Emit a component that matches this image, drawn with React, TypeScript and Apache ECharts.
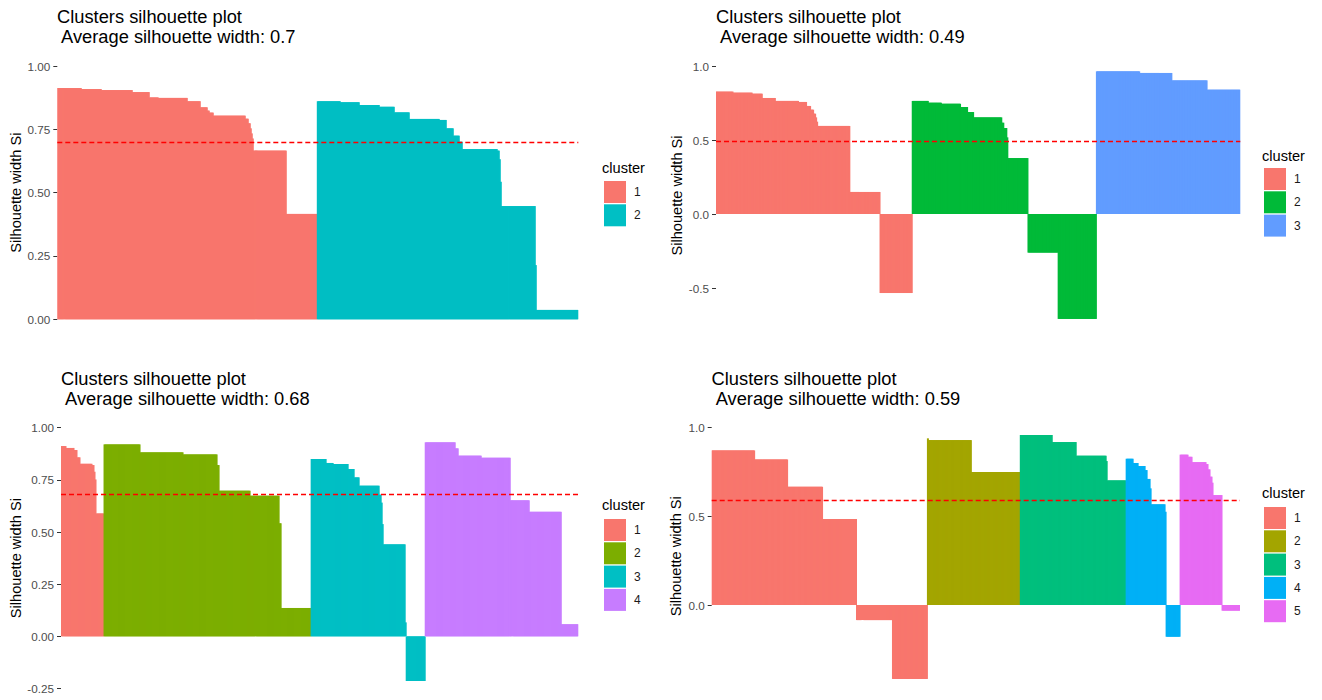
import React, { useEffect, useRef } from 'react';
import * as echarts from 'echarts';

type Run = [number, number]; // [silhouette width, number of observations]

// ---------- Data ----------
const P1_CLUSTER1: Run[] = [[0.913, 24], [0.909, 20], [0.905, 31], [0.897, 17], [0.876, 9], [0.874, 29], [0.861, 13], [0.837, 7], [0.824, 2], [0.816, 4], [0.804, 32], [0.792, 3], [0.774, 2], [0.754, 1], [0.734, 1], [0.714, 1], [0.666, 33], [0.416, 31]];
const P1_CLUSTER2: Run[] = [[0.861, 23], [0.857, 19], [0.846, 20], [0.839, 15], [0.817, 15], [0.791, 30], [0.787, 7], [0.754, 7], [0.725, 6], [0.701, 3], [0.672, 35], [0.666, 2], [0.632, 1], [0.543, 1], [0.447, 34], [0.214, 1], [0.037, 42]];

const P2_CLUSTER1: Run[] = [[0.827, 17], [0.820, 19], [0.813, 10], [0.784, 13], [0.764, 23], [0.757, 8], [0.730, 4], [0.705, 3], [0.678, 2], [0.653, 1], [0.624, 1], [0.595, 32], [0.149, 30], [-0.534, 32]];
const P2_CLUSTER2: Run[] = [[0.764, 16], [0.752, 13], [0.745, 19], [0.723, 7], [0.689, 6], [0.653, 28], [0.617, 2], [0.581, 3], [0.518, 1], [0.378, 20], [-0.261, 30], [-0.709, 38]];
const P2_CLUSTER3: Run[] = [[0.964, 43], [0.953, 32], [0.903, 35], [0.840, 33]];

const P3_CLUSTER1: Run[] = [[0.912, 5], [0.903, 8], [0.893, 3], [0.858, 3], [0.827, 12], [0.821, 2], [0.789, 1], [0.752, 1], [0.589, 8]];
const P3_CLUSTER2: Run[] = [[0.920, 36], [0.882, 43], [0.872, 34], [0.821, 2], [0.698, 31], [0.674, 29], [0.542, 2], [0.136, 30]];
const P3_CLUSTER3: Run[] = [[0.850, 15], [0.831, 7], [0.826, 15], [0.802, 6], [0.762, 5], [0.722, 20], [0.679, 2], [0.641, 1], [0.538, 1], [0.441, 22], [0.067, 1], [-0.214, 19]];
const P3_CLUSTER4: Run[] = [[0.930, 30], [0.901, 3], [0.866, 23], [0.856, 29], [0.652, 19], [0.597, 32], [0.058, 17]];

const P4_CLUSTER1: Run[] = [[0.872, 43], [0.821, 33], [0.667, 35], [0.485, 34], [-0.085, 36], [-0.417, 35]];
const P4_CLUSTER2: Run[] = [[0.940, 1], [0.930, 43], [0.750, 49]];
const P4_CLUSTER3: Run[] = [[0.959, 32], [0.919, 24], [0.842, 30], [0.812, 1], [0.703, 19]];
const P4_CLUSTER4: Run[] = [[0.825, 7], [0.801, 5], [0.784, 7], [0.761, 2], [0.711, 3], [0.658, 1], [0.568, 14], [0.526, 1], [-0.179, 14]];
const P4_CLUSTER5: Run[] = [[0.848, 8], [0.836, 4], [0.806, 14], [0.795, 2], [0.765, 2], [0.724, 2], [0.690, 1], [0.620, 9], [-0.032, 18]];

const AVG_WIDTHS = [0.7, 0.49, 0.68, 0.59];
const AVG_LABELS = ['0.7', '0.49', '0.68', '0.59'];

const P1_TICKS = [0, 0.25, 0.5, 0.75, 1];
const P2_TICKS = [-0.5, 0, 0.5, 1];
const P3_TICKS = [-0.25, 0, 0.25, 0.5, 0.75, 1];
const P4_TICKS = [0, 0.5, 1];

const COLORS_2 = ['#F8766D', '#00BFC4'];
const COLORS_3 = ['#F8766D', '#00BA38', '#619CFF'];
const COLORS_4 = ['#F8766D', '#7CAE00', '#00BFC4', '#C77CFF'];
const COLORS_5 = ['#F8766D', '#A3A500', '#00BF7D', '#00B0F6', '#E76BF3'];

const PANELS = [
  { clusters: [P1_CLUSTER1, P1_CLUSTER2], colors: COLORS_2, ticks: P1_TICKS, digits: 2, yMin: 0, yMax: 1 },
  { clusters: [P2_CLUSTER1, P2_CLUSTER2, P2_CLUSTER3], colors: COLORS_3, ticks: P2_TICKS, digits: 1, yMin: -0.75, yMax: 1 },
  { clusters: [P3_CLUSTER1, P3_CLUSTER2, P3_CLUSTER3, P3_CLUSTER4], colors: COLORS_4, ticks: P3_TICKS, digits: 2, yMin: -0.25, yMax: 1 },
  { clusters: [P4_CLUSTER1, P4_CLUSTER2, P4_CLUSTER3, P4_CLUSTER4, P4_CLUSTER5], colors: COLORS_5, ticks: P4_TICKS, digits: 1, yMin: -0.45, yMax: 1 },
];

// ---------- Layout ----------
const LAYOUT = [
  { left: 57.3, top: 66, width: 521, height: 253.3, titleLeft: 57, titleTop: 6, nameGap: 34, legendLeft: 604, legendTop: 181, ltLeft: 602, ltTop: 160 },
  { left: 716, top: 66, width: 524.3, height: 259, titleLeft: 716, titleTop: 6, nameGap: 32, legendLeft: 1264, legendTop: 168, ltLeft: 1262, ltTop: 148 },
  { left: 61, top: 427.7, width: 517.3, height: 260.8, titleLeft: 61, titleTop: 368.5, nameGap: 38, legendLeft: 604, legendTop: 519, ltLeft: 602, ltTop: 497 },
  { left: 711.7, top: 427.7, width: 528.3, height: 257.1, titleLeft: 711.6, titleTop: 368.5, nameGap: 28, legendLeft: 1264, legendTop: 507, ltLeft: 1262, ltTop: 485 },
];

const FONT = '"Liberation Sans", Arial, Helvetica, sans-serif';

function expandRuns(runs: Run[]): number[] {
  const out: number[] = [];
  for (const [v, c] of runs) for (let i = 0; i < c; i++) out.push(v);
  return out;
}

function buildOption() {
  const grid: any[] = [];
  const xAxis: any[] = [];
  const yAxis: any[] = [];
  const series: any[] = [];
  const legend: any[] = [];
  const title: any[] = [];

  PANELS.forEach((p, i) => {
    const L = LAYOUT[i];
    const clusterValues = p.clusters.map(expandRuns);
    const total = clusterValues.reduce((s, a) => s + a.length, 0);
    const cats = Array.from({ length: total }, (_, k) => String(k + 1));
    // each bar slightly wider than its band so adjacent bars overlap (no anti-alias seams)
    const barPx = (L.width / total) * 2;

    grid.push({ left: L.left, top: L.top, width: L.width, height: L.height, containLabel: false });
    xAxis.push({ type: 'category', gridIndex: i, data: cats, show: false, boundaryGap: true });
    yAxis.push({
      type: 'value',
      gridIndex: i,
      min: p.yMin,
      max: p.yMax,
      axisLine: { show: false },
      splitLine: { show: false },
      axisTick: { show: true, length: 4, customValues: p.ticks, lineStyle: { color: '#333333', width: 1 } },
      axisLabel: {
        customValues: p.ticks,
        formatter: (v: number) => v.toFixed(p.digits),
        color: '#4D4D4D',
        fontSize: 11.7,
        margin: 7,
        fontFamily: FONT,
      },
      name: 'Silhouette width Si',
      nameLocation: 'middle',
      nameGap: L.nameGap,
      nameTextStyle: { fontSize: 14.6, color: '#000000', fontFamily: FONT },
    });

    let offset = 0;
    const names: string[] = [];
    clusterValues.forEach((vals, k) => {
      const data: any[] = new Array(total).fill('-');
      vals.forEach((v, j) => { data[offset + j] = v; });
      offset += vals.length;
      const name = `p${i + 1}-${k + 1}`;
      names.push(name);
      const color = p.colors[k];
      series.push({
        type: 'bar',
        name,
        xAxisIndex: i,
        yAxisIndex: i,
        data,
        barGap: '-100%',
        barWidth: barPx,
        silent: true,
        z: 2,
        itemStyle: { color, borderWidth: 0, opacity: 1 },
      });
    });

    // dedicated carrier series for the average-silhouette reference line
    series.push({
      type: 'line',
      name: `avg-${i + 1}`,
      xAxisIndex: i,
      yAxisIndex: i,
      data: [],
      silent: true,
      z: 5,
      markLine: {
        silent: true,
        z: 5,
        symbol: ['none', 'none'],
        label: { show: false },
        lineStyle: { color: '#FF0000', type: [5, 3], width: 1.4, opacity: 1 },
        data: [{ yAxis: AVG_WIDTHS[i] }],
      },
    });

    legend.push({
      orient: 'vertical',
      left: L.legendLeft,
      top: L.legendTop,
      padding: 0,
      itemWidth: 22,
      itemHeight: 22,
      itemGap: 1.3,
      icon: 'rect',
      selectedMode: false,
      data: names,
      formatter: (n: string) => n.split('-')[1],
      textStyle: { fontSize: 12, color: '#1A1A1A', fontFamily: FONT, padding: [0, 0, 0, 3] },
    });

    title.push({
      text: `Clusters silhouette plot\n Average silhouette width: ${AVG_LABELS[i]}`,
      left: L.titleLeft,
      top: L.titleTop,
      padding: 0,
      textStyle: { fontSize: 18.3, fontWeight: 'normal', color: '#000000', lineHeight: 20, fontFamily: FONT },
    });
    title.push({
      text: 'cluster',
      left: L.ltLeft,
      top: L.ltTop,
      padding: 0,
      textStyle: { fontSize: 14.6, fontWeight: 'normal', color: '#000000', fontFamily: FONT },
    });
  });

  return {
    animation: false,
    backgroundColor: '#FFFFFF',
    title,
    legend,
    grid,
    xAxis,
    yAxis,
    series,
  };
}

export default function App() {
  const ref = useRef<HTMLDivElement>(null);
  useEffect(() => {
    if (!ref.current) return;
    const chart = echarts.init(ref.current, undefined, { renderer: 'svg' });
    chart.setOption(buildOption() as any);
    return () => chart.dispose();
  }, []);
  return (
    <div
      ref={ref}
      style={{ position: 'absolute', left: 0, top: 0, width: 1322, height: 700, background: '#FFFFFF' }}
    />
  );
}
